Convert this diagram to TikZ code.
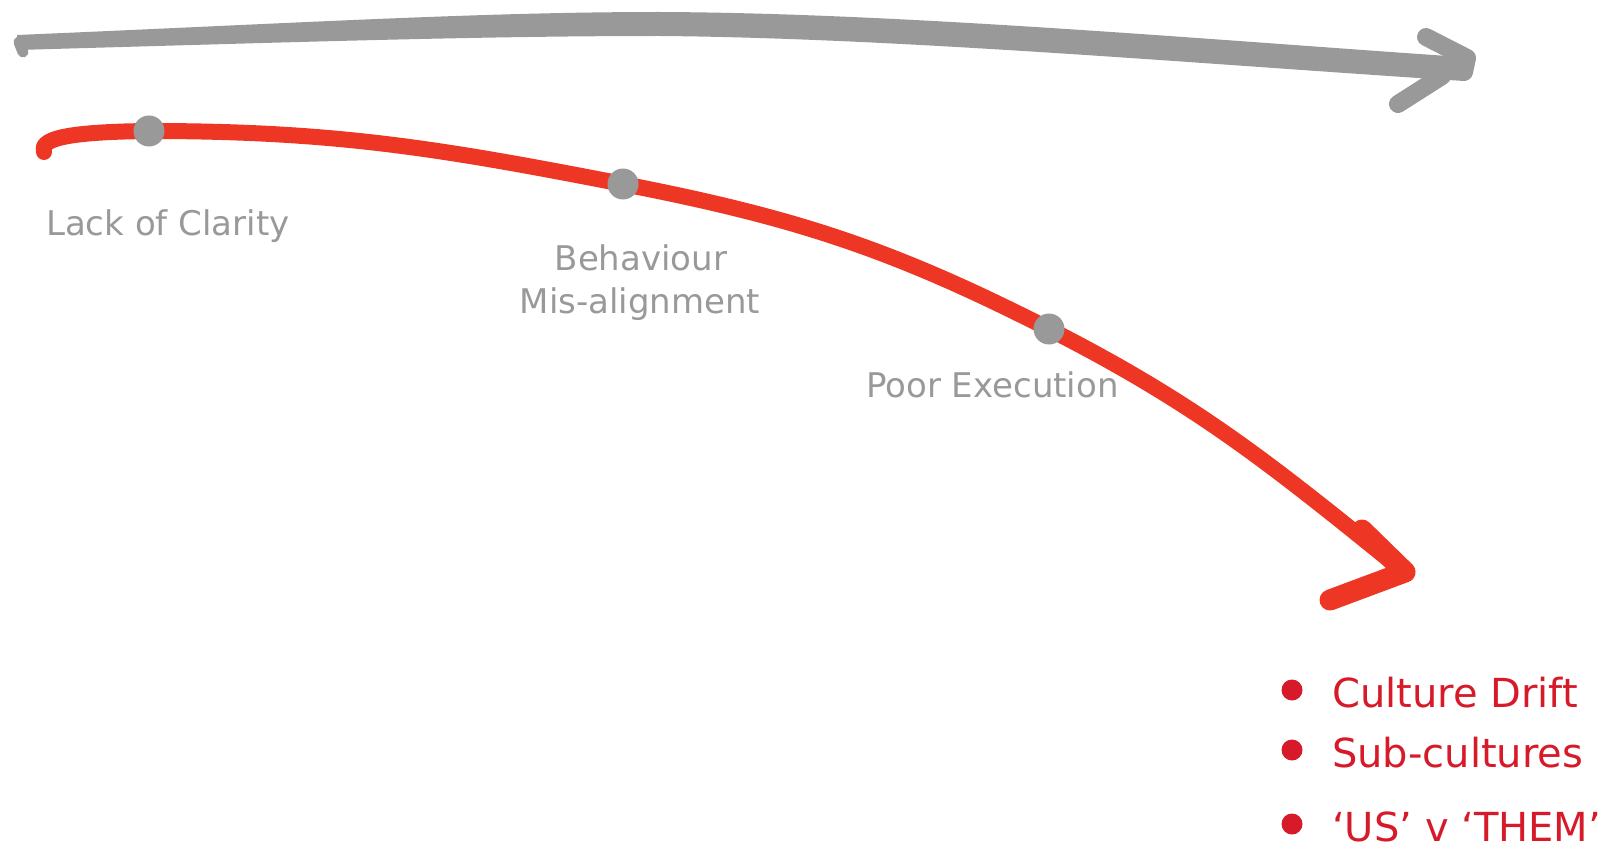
\documentclass[tikz,border=0pt]{standalone}
\usepackage{fontspec}
\setmainfont{DejaVu Sans}
\definecolor{wqwqwq}{rgb}{0.6,0.6,0.6}
\definecolor{eqdtcq}{rgb}{0.933,0.212,0.141}
\definecolor{ddbqcq}{rgb}{0.843,0.102,0.165}

\begin{document}
\begin{tikzpicture}[x=1pt,y=-1pt,line cap=round,line join=round,
  dot/.style={circle,fill=wqwqwq,inner sep=0pt,minimum size=31pt},
  bullet/.style={circle,fill=ddbqcq,inner sep=0pt,minimum size=21pt},
  stage/.style={text=wqwqwq,font=\fontsize{34}{38}\selectfont,inner sep=0pt},
  effect/.style={text=ddbqcq,font=\fontsize{40}{44}\selectfont,inner sep=0pt,anchor=base west}]

\useasboundingbox (0,0) rectangle (1600,856);

% grey arrow
\fill[color=wqwqwq] (17,35) .. controls (300,23) and (480,12) .. (660,12) .. controls (900,13) and (1200,39) .. (1462,57) -- (1464,81) .. controls (1200,64) and (900,38) .. (660,36) .. controls (480,36) and (300,42) .. (17,50) -- cycle;
\draw[color=wqwqwq,line width=11pt] (19,42) -- (23,52);
\draw[color=wqwqwq,line width=18pt] (1426,37) -- (1467,58) -- (1464,72);
\draw[color=wqwqwq,line width=18pt] (1398,104) -- (1442,76);

% red curve
\coordinate (s0) at (44,152);
\coordinate (c1) at (149,131);
\coordinate (c2) at (623,184);
\coordinate (c3) at (1049,329);
\coordinate (t0) at (1398,567);
\draw[color=eqdtcq,line width=16pt] (s0) .. controls (40,140) and (60,132) .. (c1) to[out=0,in=169] (c2) to[out=-11,in=153] (c3) to[out=-27,in=141] (t0);
\draw[color=eqdtcq,line width=21pt] (1362,530) -- (1405,572) -- (1330,600);

\foreach \i in {1,2,3}
\node[dot] (d\i) at (c\i) {};

\node[stage,anchor=base west] (lack) at (46,235) {Lack of Clarity};
\node[stage,anchor=base] (behav) at (641,270) {Behaviour};
\node[stage,anchor=base] (misal) at (640,313) {Mis-alignment};
\node[stage,anchor=base west] (poor) at (866,397) {Poor Execution};

% outcomes
\foreach \i/\y/\t in {1/690/Culture Drift,2/750/Sub-cultures,3/824/‘US’ v ‘THEM’}{
\node[bullet] (b\i) at (1292,\y) {};
\node[effect] (e\i) at (1332,\y+17) {\t};
}

\end{tikzpicture}
\end{document}
